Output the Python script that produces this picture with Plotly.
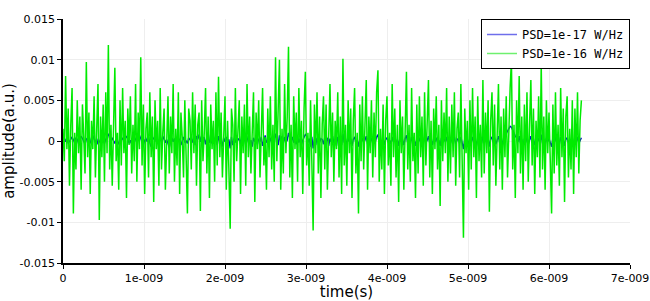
import numpy as np
import plotly.graph_objects as go

# sample spacing (s) and series values in units of 1e-4 (a.u.)
dt = 0.016e-9
green_e4 = [
    15, -25, 80, -10, 40, -55, 20, 65, -89, 10, -35, 50, -15, 30, -60, 45, 5, -40, 97, -20,
    35, -65, 25, -10, 55, -45, 15, 70, -97, 30, -20, 45, -50, 60, -15, 118, -35, 20, -55, 40,
    90, -25, 10, -60, 50, -30, 65, -15, 25, -70, 40, -5, 55, -40, 20, -25, 70, -50, 35, -10,
    103, -30, 45, -65, 15, 35, -45, 60, -20, 30, -75, 50, -10, 25, -55, 65, -35, 10, 40, -60,
    20, 55, -40, 30, -15, 70, -50, 15, -30, 60, -65, 35, 5, -45, 50, -20, -89, 40, 25, -35,
    60, -15, 45, -55, 20, 35, -86, 50, -25, 10, 65, -40, 30, -70, 45, -10, 25, -50, 60, -30,
    79, -20, 35, -45, 15, 55, -60, 25, -35, -108, 40, 20, -50, 65, -25, 10, 50, -65, 30, -15,
    45, -55, 70, -20, 30, -40, 15, 60, -75, 35, -10, 50, -45, 25, 65, -30, 5, -60, 40, -20,
    55, -35, 20, -50, 103, -25, 45, 100, -60, 15, -40, 70, -15, 30, 116, -45, 20, -70, 55, -10,
    35, -50, 65, -20, 25, -65, 40, 85, -30, 10, -55, 50, -25, -110, 45, -15, 60, -40, 30, -70,
    20, 55, -35, 45, -60, 15, 70, -20, 35, -50, 25, -10, 60, -45, 30, -65, 101, -30, 20, -55,
    50, -15, 40, -70, 25, 65, -40, 10, -89, 45, -25, 55, -35, 20, 75, -60, 30, -15, 50, -45,
    35, -20, 60, 87, -50, 15, -35, 45, -65, 25, 55, -30, 10, -55, 70, -20, 40, -45, 20, -75,
    50, -15, 30, -60, 40, 85, -35, 20, -50, 65, -25, 10, -70, 45, -40, 55, -20, 30, -55, 60,
    -30, 15, 75, -45, 25, -65, 40, -10, 55, -35, 20, -80, 50, -25, 35, -15, 65, -50, 30, -40,
    45, -20, 60, -55, 15, 35, -45, 70, -30, -119, 40, -15, 25, -60, 50, -35, 65, -20, 30, -70,
    55, -25, 20, -45, 75, -40, 35, -15, 50, -87, 25, 60, -30, 45, -55, 15, 70, -35, 30, -60,
    40, -20, 55, -45, 25, 65, 99, -35, 20, -70, 50, -15, 80, -40, 30, -60, 45, -25, 60, -50,
    20, 75, -30, 40, -65, 25, -20, 55, -45, 95, -35, 30, -60, 50, -15, 35, -25, -89, 45, -40,
    60, -30, 20, -55, 65, -20, 40, -75, 30, 55, -45, 15, -35, 50, -65, 40, -20, 60, -40, 25,
    50,
]
blue_e4 = [
    2, 4, -1, 3, -3, -1, 2, 5, 1, -2, 4, 2, -3, 1, 6, 3, -1, -4, 2, 4,
    1, -3, 4, 7, 2, -2, 3, -4, -1, 2, 5, 1, -3, 2, 6, 9, 3, -2, 4, 1,
    -3, 2, -5, -2, 3, 1, 4, -1, 2, 6, 3, -3, 1, -4, 2, 5, 2, -2, 4, 7,
    3, -2, -6, 1, 3, -1, 5, -2, -7, 1, 4, 6, -1, 2, -4, 3, 0, 6, 2, -2,
    2, -4, -8, 1, 4, -1, 3, -4, 5, 1, 2, -5, 1, 5, -2, 0, -3, 4, 1, 6,
    -2, 3, -5, 6, 2, 8, -1, 7, 3, 4, -4, 5, 10, -2, 1, -3, 6, 1, 3, -5,
    6, -1, 1, -7, 4, -1, 5, -3, 2, -9, 5, -5, 3, -2, 7, 1, 3, -4, 8, -1,
    4, -5, 2, 6, -3, 1, -7, 4, -1, 5, -4, 3, -1, 5, -6, 2, 7, -2, 1, -4,
    4, -1, 6, -3, 9, 3, -5, 7, -1, 6, -3, 5, -2, 1, 10, 4, -1, 5, -2, 2,
    -4, 6, -2, 3, -5, 1, 4, 8, 6, -2, 3, -7, 5, -9, 2, -5, 4, -3, -2, 3,
    2, -4, 5, -1, 4, -6, 3, -1, 6, -3, 2, -6, 5, -2, 4, -5, 9, -2, 3, -5,
    4, -1, 3, -6, 2, 5, -3, 1, -7, 3, -2, 4, -2, 1, 6, -4, 2, -1, 4, -3,
    3, -1, 5, 8, -4, 1, -3, 4, -5, 2, 4, -2, 1, -4, 5, -1, 3, -3, 2, -6,
    4, -1, 2, -5, 3, 7, -3, 1, -4, 5, -2, 1, -6, 3, -3, 4, -1, 2, -4, 5,
    -2, 1, 6, -3, 2, -5, 3, -1, 4, -2, 1, -6, 4, -2, 3, -1, 5, -4, 2, -3,
    3, -1, 5, -4, 1, 3, -3, 5, -2, -10, 3, -1, 2, -5, 4, -3, 5, -1, 2, -6,
    4, -2, 1, -3, 6, -3, 3, -1, 4, -7, 2, 5, -2, 4, -4, 1, 6, -3, 3, -5,
    4, 6, 9, 12, 15, 18, 17, 13, 10, 6, 4, -1, 6, -3, 2, -5, 3, -2, 5, -4,
    1, 6, -2, 3, -5, 2, -1, 4, -3, 8, -3, 2, -5, 4, -1, 3, -2, -7, 4, -3,
    5, -2, 1, -4, 5, -1, 3, -6, 2, 4, -3, 1, -3, 4, -5, 3, -1, 5, -3, 2,
    4,
]
series_names = ["PSD=1e-17 W/Hz", "PSD=1e-16 W/Hz"]
x_tickvals = [0, 1e-9, 2e-9, 3e-9, 4e-9, 5e-9, 6e-9, 7e-9]
x_ticktext = ["0", "1e-009", "2e-009", "3e-009", "4e-009", "5e-009", "6e-009", "7e-009"]
y_tickvals = [-0.015, -0.01, -0.005, 0, 0.005, 0.01, 0.015]
y_ticktext = ["-0.015", "-0.01", "-0.005", "0", "0.005", "0.01", "0.015"]

t = np.arange(len(green_e4)) * dt
green = np.array(green_e4) * 1e-4
blue = np.array(blue_e4) * 1e-4

fig = go.Figure()
fig.add_trace(go.Scatter(x=t, y=blue, mode="lines", showlegend=False,
                         line=dict(color="rgb(10,10,200)", width=1.4)))
fig.add_trace(go.Scatter(x=t, y=green, mode="lines", showlegend=False,
                         line=dict(color="rgb(0,235,0)", width=1.5)))
# legend entries (lighter sample lines, as in the reference legend)
fig.add_trace(go.Scatter(x=[None], y=[None], mode="lines", name=series_names[0],
                         line=dict(color="rgb(110,110,235)", width=1.5)))
fig.add_trace(go.Scatter(x=[None], y=[None], mode="lines", name=series_names[1],
                         line=dict(color="rgb(110,240,110)", width=1.5)))

axis_font = dict(family="DejaVu Sans", size=11, color="black")
title_font = dict(family="DejaVu Sans", size=15, color="black")
fig.update_layout(
    width=650, height=301,
    margin=dict(l=63, r=20, t=19, b=38),
    paper_bgcolor="white", plot_bgcolor="white",
    showlegend=True,
    legend=dict(x=1, y=1, xanchor="right", yanchor="top",
                bgcolor="white", bordercolor="black", borderwidth=1,
                font=dict(family="DejaVu Sans Mono", size=12, color="black"),
                tracegroupgap=0, itemwidth=30),
    xaxis=dict(range=[0, 7e-9], tickvals=x_tickvals, ticktext=x_ticktext,
               automargin=False,
               showgrid=True, gridcolor="#eeeeee", zeroline=False,
               showline=True, linecolor="black", linewidth=1.5,
               ticks="outside", ticklen=4, tickcolor="black",
               tickfont=axis_font,
               title=dict(text="time(s)", font=title_font, standoff=2)),
    yaxis=dict(range=[-0.015, 0.015], tickvals=y_tickvals, ticktext=y_ticktext,
               automargin=False,
               showgrid=True, gridcolor="#eeeeee", zeroline=False,
               showline=True, linecolor="black", linewidth=1.5,
               ticks="outside", ticklen=4, tickcolor="black",
               tickfont=axis_font,
               title=dict(text="amplitude(a.u.)", font=title_font, standoff=4)),
)
fig.write_html("out.html")
